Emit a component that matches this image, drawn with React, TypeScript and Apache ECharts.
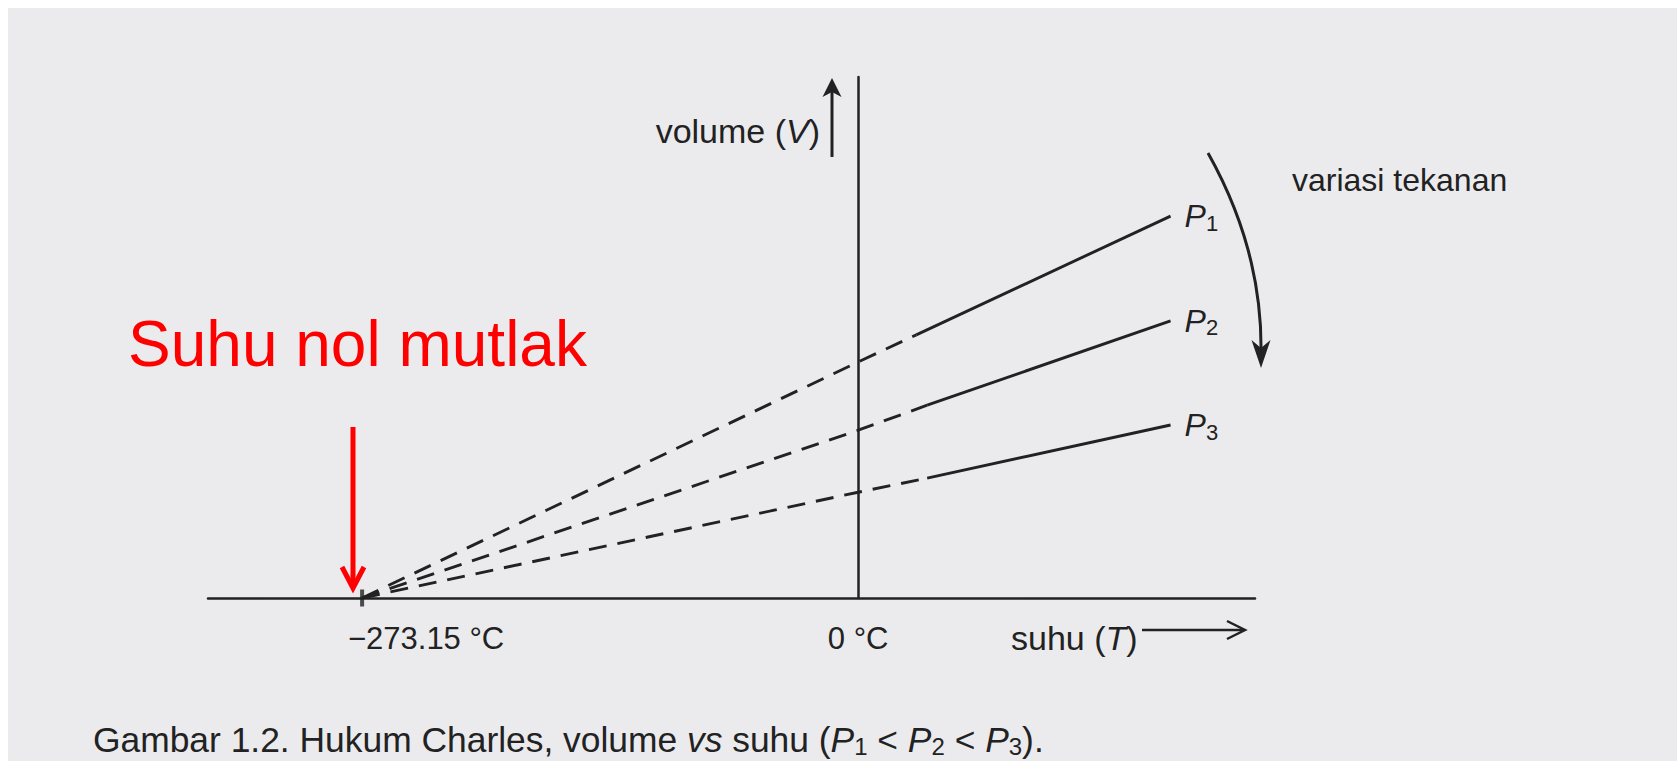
import React, { useEffect, useRef } from "react";
import * as echarts from "echarts";

// Temperature axis (°C): absolute zero and the freezing point of water
const absoluteZero = -273.15;
const tempTickValues = [-273.15, 0];
const tempTickLabels = ["−273.15 °C", "0 °C"];

// Isobar names (subscript index of P)
const pressureIndex = ["1", "2", "3"];

// Volume (arbitrary units) vs temperature, extrapolated (dashed) part of each isobar
const p1Extrapolated = [[-273.15, 0], [0, 4.53], [32, 5.05]];
const p2Extrapolated = [[-273.15, 0], [0, 3.22], [38, 3.7]];
const p3Extrapolated = [[-273.15, 0], [0, 2.03], [38, 2.3]];

// Measured (solid) part of each isobar
const p1Measured = [[32, 5.05], [172, 7.33]];
const p2Measured = [[38, 3.7], [172, 5.32]];
const p3Measured = [[38, 2.3], [172, 3.32]];

const INK = "#222222";
const RED = "#ff0000";
const FONT = '"Liberation Sans", Arial, Helvetica, sans-serif';

const mainRich = { fontSize: 32, fontFamily: FONT, color: INK, lineHeight: 36, verticalAlign: "middle" as const };
const italicRich = { ...mainRich, fontStyle: "italic" as const };
const subRich = { fontSize: 22, fontFamily: FONT, color: INK, lineHeight: 18, verticalAlign: "bottom" as const };

// zrender-style rich tokens for graphic texts
const gMain = (size: number, lh = size + 4) => ({ fontSize: size, fontFamily: FONT, fill: INK, lineHeight: lh, verticalAlign: "middle" });
const gItalic = (size: number, lh = size + 4) => ({ ...gMain(size, lh), fontStyle: "italic" });
const gSub = (size: number) => ({ fontSize: Math.round(size * 0.68), fontFamily: FONT, fill: INK, lineHeight: Math.round(size * 0.56), verticalAlign: "bottom" });

export default function App() {
  const ref = useRef<HTMLDivElement>(null);

  useEffect(() => {
    if (!ref.current) return;
    const chart = echarts.init(ref.current, undefined, { renderer: "svg" });

    const extrapolated = [p1Extrapolated, p2Extrapolated, p3Extrapolated];
    const measured = [p1Measured, p2Measured, p3Measured];

    const dashedSeries = extrapolated.map((data, i) => ({
      name: "P" + pressureIndex[i] + " (ekstrapolasi)",
      type: "line",
      data,
      symbol: "none",
      silent: true,
      z: 3,
      lineStyle: { color: INK, width: 2.9, type: [18, 11] },
    }));

    const solidSeries = measured.map((data, i) => ({
      name: "P" + pressureIndex[i],
      type: "line",
      data,
      symbol: "none",
      silent: true,
      z: 3,
      lineStyle: { color: INK, width: 2.9 },
      endLabel: {
        show: true,
        distance: 14,
        formatter: "{p|P}{s|" + pressureIndex[i] + "}",
        rich: { p: italicRich, s: subRich },
      },
    }));

    chart.setOption({
      animation: false,
      backgroundColor: "#ebebee",
      grid: { left: 200, width: 1047, top: 69, bottom: 163, containLabel: false },
      xAxis: {
        type: "value",
        min: -358,
        max: 218.5,
        axisLine: { show: true, onZero: true, lineStyle: { color: INK, width: 2.5 } },
        axisTick: { show: false },
        splitLine: { show: false },
        axisLabel: {
          show: true,
          customValues: tempTickValues,
          margin: 25,
          formatter: (v: number) => {
            const idx = tempTickValues.indexOf(v);
            const text = idx >= 0 ? tempTickLabels[idx] : "";
            return v === absoluteZero ? "{far|" + text + "}" : "{near|" + text + "}";
          },
          rich: {
            far: { fontSize: 31, fontFamily: FONT, color: INK, padding: [0, 0, 0, 128] },
            near: { fontSize: 31, fontFamily: FONT, color: INK },
          },
        },
      },
      yAxis: {
        type: "value",
        min: 0,
        max: 10,
        axisLine: { show: true, onZero: true, lineStyle: { color: INK, width: 2.5 } },
        axisTick: { show: false },
        axisLabel: { show: false },
        splitLine: { show: false },
      },
      series: [
        ...dashedSeries,
        ...solidSeries,
        {
          name: "nol mutlak",
          type: "scatter",
          data: [[absoluteZero, 0]],
          symbol: "rect",
          symbolSize: [4, 17],
          silent: true,
          z: 4,
          itemStyle: { color: INK },
        },
      ],
      graphic: [
        // y-axis name with arrow
        {
          type: "text",
          x: 812,
          y: 123,
          style: {
            text: "{t|volume (}{i|V}{t|)}",
            rich: { t: gMain(34), i: gItalic(34) },
            align: "right",
            verticalAlign: "middle",
            fontSize: 34,
            fontFamily: FONT,
            fill: INK,
          },
        },
        { type: "line", shape: { x1: 824, y1: 149, x2: 824, y2: 84 }, style: { stroke: INK, lineWidth: 3 } },
        {
          type: "polygon",
          shape: { points: [[824, 70], [814.5, 89], [824, 84], [833.5, 89]] },
          style: { fill: INK },
        },
        // x-axis name with arrow
        {
          type: "text",
          x: 1003,
          y: 630,
          style: {
            text: "{t|suhu (}{i|T}{t|)}",
            rich: { t: gMain(34), i: gItalic(34) },
            align: "left",
            verticalAlign: "middle",
            fontSize: 34,
            fontFamily: FONT,
            fill: INK,
          },
        },
        { type: "line", shape: { x1: 1134, y1: 622, x2: 1236, y2: 622 }, style: { stroke: INK, lineWidth: 2.5 } },
        {
          type: "polyline",
          shape: { points: [[1219, 613], [1237, 622], [1219, 631]] },
          style: { stroke: INK, lineWidth: 2.5, fill: "none" },
        },
        // pressure variation arrow
        {
          type: "text",
          x: 1284,
          y: 172,
          style: {
            text: "variasi tekanan",
            align: "left",
            verticalAlign: "middle",
            fontSize: 32,
            fontFamily: FONT,
            fill: INK,
          },
        },
        {
          type: "bezierCurve",
          shape: { x1: 1200, y1: 145, cpx1: 1232, cpy1: 202, cpx2: 1254, cpy2: 270, x2: 1253, y2: 344 },
          style: { stroke: INK, lineWidth: 3, fill: "none" },
        },
        {
          type: "polygon",
          shape: { points: [[1253, 360], [1243.5, 332], [1253, 340], [1262.5, 332]] },
          style: { fill: INK },
        },
        // absolute zero annotation
        {
          type: "text",
          x: 120,
          y: 336,
          style: {
            text: "Suhu nol mutlak",
            align: "left",
            verticalAlign: "middle",
            fontSize: 64,
            fontFamily: FONT,
            fill: RED,
          },
        },
        { type: "line", shape: { x1: 345, y1: 419, x2: 345, y2: 578 }, style: { stroke: RED, lineWidth: 5 } },
        {
          type: "polyline",
          shape: { points: [[334, 559], [345, 580], [356, 559]] },
          style: { stroke: RED, lineWidth: 5, fill: "none", lineJoin: "miter" },
        },
        // figure caption
        {
          type: "text",
          x: 85,
          y: 732,
          style: {
            text:
              "{t|Gambar 1.2. Hukum Charles, volume }{i|vs}{t| suhu (}{i|P}{s|1}{t| < }{i|P}{s|2}{t| < }{i|P}{s|3}{t|).}",
            rich: { t: gMain(35.4, 36), i: gItalic(35.4, 36), s: gSub(35.4) },
            align: "left",
            verticalAlign: "middle",
            fontSize: 35.4,
            fontFamily: FONT,
            fill: INK,
          },
        },
      ],
    });

    return () => chart.dispose();
  }, []);

  return <div ref={ref} style={{ position: "fixed", left: 8, top: 8, width: 1669, height: 753 }} />;
}
